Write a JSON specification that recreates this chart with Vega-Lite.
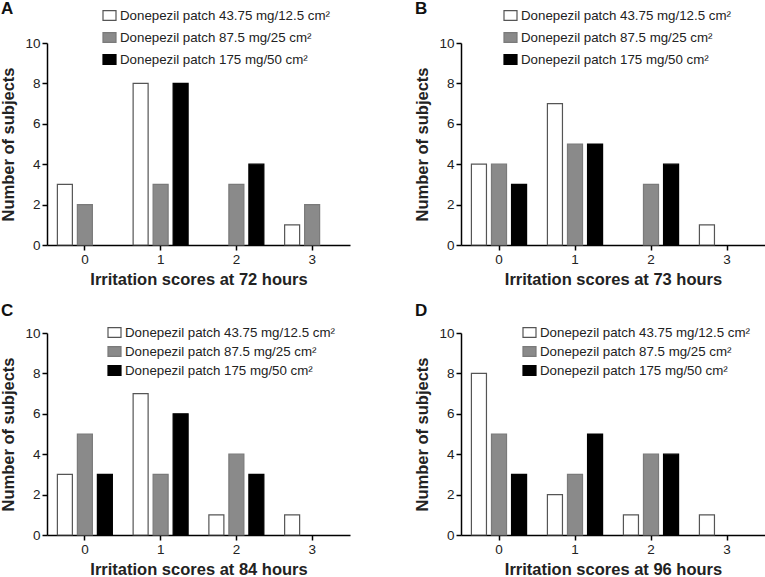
{
  "$schema": "https://vega.github.io/schema/vega-lite/v6.json",
  "padding": {"left": 0, "top": 0, "right": 0, "bottom": 0},
  "background": "white",
  "datasets": {
    "irr": [
      {"panel": "A", "score": "0", "dose": "Donepezil patch 43.75 mg/12.5 cm²", "n": 3},
      {"panel": "A", "score": "0", "dose": "Donepezil patch 87.5 mg/25 cm²", "n": 2},
      {"panel": "A", "score": "0", "dose": "Donepezil patch 175 mg/50 cm²", "n": 0},
      {"panel": "A", "score": "1", "dose": "Donepezil patch 43.75 mg/12.5 cm²", "n": 8},
      {"panel": "A", "score": "1", "dose": "Donepezil patch 87.5 mg/25 cm²", "n": 3},
      {"panel": "A", "score": "1", "dose": "Donepezil patch 175 mg/50 cm²", "n": 8},
      {"panel": "A", "score": "2", "dose": "Donepezil patch 43.75 mg/12.5 cm²", "n": 0},
      {"panel": "A", "score": "2", "dose": "Donepezil patch 87.5 mg/25 cm²", "n": 3},
      {"panel": "A", "score": "2", "dose": "Donepezil patch 175 mg/50 cm²", "n": 4},
      {"panel": "A", "score": "3", "dose": "Donepezil patch 43.75 mg/12.5 cm²", "n": 1},
      {"panel": "A", "score": "3", "dose": "Donepezil patch 87.5 mg/25 cm²", "n": 2},
      {"panel": "A", "score": "3", "dose": "Donepezil patch 175 mg/50 cm²", "n": 0},
      {"panel": "B", "score": "0", "dose": "Donepezil patch 43.75 mg/12.5 cm²", "n": 4},
      {"panel": "B", "score": "0", "dose": "Donepezil patch 87.5 mg/25 cm²", "n": 4},
      {"panel": "B", "score": "0", "dose": "Donepezil patch 175 mg/50 cm²", "n": 3},
      {"panel": "B", "score": "1", "dose": "Donepezil patch 43.75 mg/12.5 cm²", "n": 7},
      {"panel": "B", "score": "1", "dose": "Donepezil patch 87.5 mg/25 cm²", "n": 5},
      {"panel": "B", "score": "1", "dose": "Donepezil patch 175 mg/50 cm²", "n": 5},
      {"panel": "B", "score": "2", "dose": "Donepezil patch 43.75 mg/12.5 cm²", "n": 0},
      {"panel": "B", "score": "2", "dose": "Donepezil patch 87.5 mg/25 cm²", "n": 3},
      {"panel": "B", "score": "2", "dose": "Donepezil patch 175 mg/50 cm²", "n": 4},
      {"panel": "B", "score": "3", "dose": "Donepezil patch 43.75 mg/12.5 cm²", "n": 1},
      {"panel": "B", "score": "3", "dose": "Donepezil patch 87.5 mg/25 cm²", "n": 0},
      {"panel": "B", "score": "3", "dose": "Donepezil patch 175 mg/50 cm²", "n": 0},
      {"panel": "C", "score": "0", "dose": "Donepezil patch 43.75 mg/12.5 cm²", "n": 3},
      {"panel": "C", "score": "0", "dose": "Donepezil patch 87.5 mg/25 cm²", "n": 5},
      {"panel": "C", "score": "0", "dose": "Donepezil patch 175 mg/50 cm²", "n": 3},
      {"panel": "C", "score": "1", "dose": "Donepezil patch 43.75 mg/12.5 cm²", "n": 7},
      {"panel": "C", "score": "1", "dose": "Donepezil patch 87.5 mg/25 cm²", "n": 3},
      {"panel": "C", "score": "1", "dose": "Donepezil patch 175 mg/50 cm²", "n": 6},
      {"panel": "C", "score": "2", "dose": "Donepezil patch 43.75 mg/12.5 cm²", "n": 1},
      {"panel": "C", "score": "2", "dose": "Donepezil patch 87.5 mg/25 cm²", "n": 4},
      {"panel": "C", "score": "2", "dose": "Donepezil patch 175 mg/50 cm²", "n": 3},
      {"panel": "C", "score": "3", "dose": "Donepezil patch 43.75 mg/12.5 cm²", "n": 1},
      {"panel": "C", "score": "3", "dose": "Donepezil patch 87.5 mg/25 cm²", "n": 0},
      {"panel": "C", "score": "3", "dose": "Donepezil patch 175 mg/50 cm²", "n": 0},
      {"panel": "D", "score": "0", "dose": "Donepezil patch 43.75 mg/12.5 cm²", "n": 8},
      {"panel": "D", "score": "0", "dose": "Donepezil patch 87.5 mg/25 cm²", "n": 5},
      {"panel": "D", "score": "0", "dose": "Donepezil patch 175 mg/50 cm²", "n": 3},
      {"panel": "D", "score": "1", "dose": "Donepezil patch 43.75 mg/12.5 cm²", "n": 2},
      {"panel": "D", "score": "1", "dose": "Donepezil patch 87.5 mg/25 cm²", "n": 3},
      {"panel": "D", "score": "1", "dose": "Donepezil patch 175 mg/50 cm²", "n": 5},
      {"panel": "D", "score": "2", "dose": "Donepezil patch 43.75 mg/12.5 cm²", "n": 1},
      {"panel": "D", "score": "2", "dose": "Donepezil patch 87.5 mg/25 cm²", "n": 4},
      {"panel": "D", "score": "2", "dose": "Donepezil patch 175 mg/50 cm²", "n": 4},
      {"panel": "D", "score": "3", "dose": "Donepezil patch 43.75 mg/12.5 cm²", "n": 1},
      {"panel": "D", "score": "3", "dose": "Donepezil patch 87.5 mg/25 cm²", "n": 0},
      {"panel": "D", "score": "3", "dose": "Donepezil patch 175 mg/50 cm²", "n": 0}
    ]
  },
  "config": {
    "font": "Liberation Sans",
    "view": {"stroke": null},
    "axis": {
      "grid": false,
      "domainColor": "#000000",
      "domainWidth": 1.5,
      "tickColor": "#000000",
      "tickWidth": 1.5,
      "tickSize": 5,
      "labelFont": "Liberation Sans",
      "labelFontSize": 13.5,
      "labelColor": "#222222",
      "titleFont": "Liberation Sans",
      "titleFontSize": 16.5,
      "titleFontWeight": "bold",
      "titleColor": "#222222"
    },
    "axisX": {"labelPadding": 2, "titlePadding": 6, "labelAngle": 0},
    "axisY": {"labelPadding": 2, "titlePadding": 8},
    "legend": {
      "labelFont": "Liberation Sans",
      "labelFontSize": 13.3,
      "labelColor": "#222222",
      "symbolType": "M-1,-0.75H1V0.75H-1Z",
      "symbolSize": 169,
      "symbolStrokeWidth": 1.2,
      "labelOffset": 3,
      "labelLimit": 400
    },
    "title": {"font": "Liberation Sans", "fontSize": 17, "fontWeight": "bold", "color": "#111111", "anchor": "start", "frame": "bounds"}
  },
  "vconcat": [
    {
      "hconcat": [
        {
          "title": {"text": "A", "offset": -10},
          "width": 303, "height": 202,
          "data": {"name": "irr"},
          "transform": [{"filter": "datum.panel === 'A' && datum.n > 0"}],
          "mark": {"type": "bar", "strokeWidth": 1.2},
          "encoding": {
            "x": {"field": "score", "type": "nominal", "scale": {"domain": ["0", "1", "2", "3"], "paddingInner": 0.274, "paddingOuter": 0.137}, "axis": {"title": "Irritation scores at 72 hours"}},
            "xOffset": {"field": "dose", "type": "nominal", "scale": {"domain": ["Donepezil patch 43.75 mg/12.5 cm²", "Donepezil patch 87.5 mg/25 cm²", "Donepezil patch 175 mg/50 cm²"], "paddingInner": 0.25, "paddingOuter": 0}},
            "y": {"field": "n", "type": "quantitative", "scale": {"domain": [0, 10]}, "axis": {"values": [0, 2, 4, 6, 8, 10], "title": "Number of subjects"}},
            "fill": {"field": "dose", "type": "nominal", "scale": {"domain": ["Donepezil patch 43.75 mg/12.5 cm²", "Donepezil patch 87.5 mg/25 cm²", "Donepezil patch 175 mg/50 cm²"], "range": ["#ffffff", "#8a8a8a", "#000000"]}, "legend": {"title": null, "orient": "none", "legendX": 55, "legendY": -35, "rowPadding": 7}},
            "stroke": {"field": "dose", "type": "nominal", "scale": {"domain": ["Donepezil patch 43.75 mg/12.5 cm²", "Donepezil patch 87.5 mg/25 cm²", "Donepezil patch 175 mg/50 cm²"], "range": ["#555555", "#7a7a7a", "#000000"]}, "legend": {"title": null, "orient": "none", "legendX": 55, "legendY": -35, "rowPadding": 7}}
          }
        },
        {
          "title": {"text": "B", "offset": -10},
          "width": 304, "height": 202,
          "data": {"name": "irr"},
          "transform": [{"filter": "datum.panel === 'B' && datum.n > 0"}],
          "mark": {"type": "bar", "strokeWidth": 1.2},
          "encoding": {
            "x": {"field": "score", "type": "nominal", "scale": {"domain": ["0", "1", "2", "3"], "paddingInner": 0.274, "paddingOuter": 0.137}, "axis": {"title": "Irritation scores at 73 hours"}},
            "xOffset": {"field": "dose", "type": "nominal", "scale": {"domain": ["Donepezil patch 43.75 mg/12.5 cm²", "Donepezil patch 87.5 mg/25 cm²", "Donepezil patch 175 mg/50 cm²"], "paddingInner": 0.25, "paddingOuter": 0}},
            "y": {"field": "n", "type": "quantitative", "scale": {"domain": [0, 10]}, "axis": {"values": [0, 2, 4, 6, 8, 10], "title": "Number of subjects"}},
            "fill": {"field": "dose", "type": "nominal", "scale": {"domain": ["Donepezil patch 43.75 mg/12.5 cm²", "Donepezil patch 87.5 mg/25 cm²", "Donepezil patch 175 mg/50 cm²"], "range": ["#ffffff", "#8a8a8a", "#000000"]}, "legend": {"title": null, "orient": "none", "legendX": 42, "legendY": -35, "rowPadding": 7}},
            "stroke": {"field": "dose", "type": "nominal", "scale": {"domain": ["Donepezil patch 43.75 mg/12.5 cm²", "Donepezil patch 87.5 mg/25 cm²", "Donepezil patch 175 mg/50 cm²"], "range": ["#555555", "#7a7a7a", "#000000"]}, "legend": {"title": null, "orient": "none", "legendX": 42, "legendY": -35, "rowPadding": 7}}
          }
        }
      ],
      "spacing": 64,
      "resolve": {"scale": {"fill": "independent", "stroke": "independent", "x": "independent", "y": "independent", "xOffset": "independent"}, "legend": {"fill": "independent", "stroke": "independent"}}
    },
    {
      "hconcat": [
        {
          "title": {"text": "C", "offset": 5},
          "width": 303, "height": 202,
          "data": {"name": "irr"},
          "transform": [{"filter": "datum.panel === 'C' && datum.n > 0"}],
          "mark": {"type": "bar", "strokeWidth": 1.2},
          "encoding": {
            "x": {"field": "score", "type": "nominal", "scale": {"domain": ["0", "1", "2", "3"], "paddingInner": 0.274, "paddingOuter": 0.137}, "axis": {"title": "Irritation scores at 84 hours"}},
            "xOffset": {"field": "dose", "type": "nominal", "scale": {"domain": ["Donepezil patch 43.75 mg/12.5 cm²", "Donepezil patch 87.5 mg/25 cm²", "Donepezil patch 175 mg/50 cm²"], "paddingInner": 0.25, "paddingOuter": 0}},
            "y": {"field": "n", "type": "quantitative", "scale": {"domain": [0, 10]}, "axis": {"values": [0, 2, 4, 6, 8, 10], "title": "Number of subjects"}},
            "fill": {"field": "dose", "type": "nominal", "scale": {"domain": ["Donepezil patch 43.75 mg/12.5 cm²", "Donepezil patch 87.5 mg/25 cm²", "Donepezil patch 175 mg/50 cm²"], "range": ["#ffffff", "#8a8a8a", "#000000"]}, "legend": {"title": null, "orient": "none", "legendX": 60, "legendY": -8, "rowPadding": 4}},
            "stroke": {"field": "dose", "type": "nominal", "scale": {"domain": ["Donepezil patch 43.75 mg/12.5 cm²", "Donepezil patch 87.5 mg/25 cm²", "Donepezil patch 175 mg/50 cm²"], "range": ["#555555", "#7a7a7a", "#000000"]}, "legend": {"title": null, "orient": "none", "legendX": 60, "legendY": -8, "rowPadding": 4}}
          }
        },
        {
          "title": {"text": "D", "offset": 5},
          "width": 304, "height": 202,
          "data": {"name": "irr"},
          "transform": [{"filter": "datum.panel === 'D' && datum.n > 0"}],
          "mark": {"type": "bar", "strokeWidth": 1.2},
          "encoding": {
            "x": {"field": "score", "type": "nominal", "scale": {"domain": ["0", "1", "2", "3"], "paddingInner": 0.274, "paddingOuter": 0.137}, "axis": {"title": "Irritation scores at 96 hours"}},
            "xOffset": {"field": "dose", "type": "nominal", "scale": {"domain": ["Donepezil patch 43.75 mg/12.5 cm²", "Donepezil patch 87.5 mg/25 cm²", "Donepezil patch 175 mg/50 cm²"], "paddingInner": 0.25, "paddingOuter": 0}},
            "y": {"field": "n", "type": "quantitative", "scale": {"domain": [0, 10]}, "axis": {"values": [0, 2, 4, 6, 8, 10], "title": "Number of subjects"}},
            "fill": {"field": "dose", "type": "nominal", "scale": {"domain": ["Donepezil patch 43.75 mg/12.5 cm²", "Donepezil patch 87.5 mg/25 cm²", "Donepezil patch 175 mg/50 cm²"], "range": ["#ffffff", "#8a8a8a", "#000000"]}, "legend": {"title": null, "orient": "none", "legendX": 61, "legendY": -8, "rowPadding": 4}},
            "stroke": {"field": "dose", "type": "nominal", "scale": {"domain": ["Donepezil patch 43.75 mg/12.5 cm²", "Donepezil patch 87.5 mg/25 cm²", "Donepezil patch 175 mg/50 cm²"], "range": ["#555555", "#7a7a7a", "#000000"]}, "legend": {"title": null, "orient": "none", "legendX": 61, "legendY": -8, "rowPadding": 4}}
          }
        }
      ],
      "spacing": 64,
      "resolve": {"scale": {"fill": "independent", "stroke": "independent", "x": "independent", "y": "independent", "xOffset": "independent"}, "legend": {"fill": "independent", "stroke": "independent"}}
    }
  ],
  "spacing": 14,
  "resolve": {"scale": {"fill": "independent", "stroke": "independent", "x": "independent", "y": "independent", "xOffset": "independent"}, "legend": {"fill": "independent", "stroke": "independent"}}
}
